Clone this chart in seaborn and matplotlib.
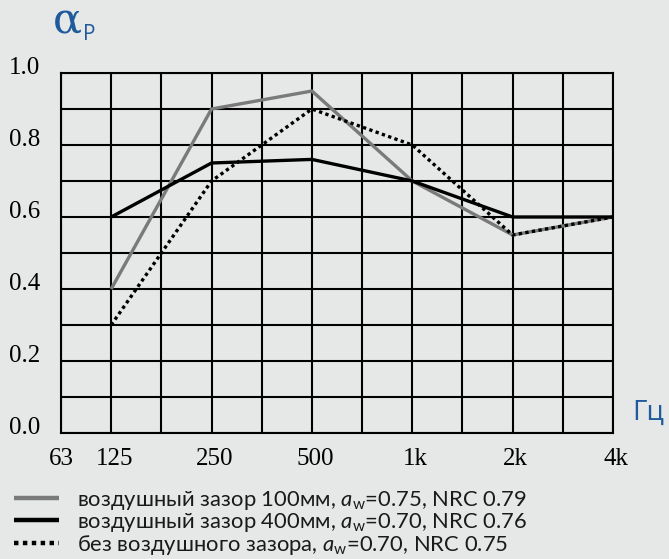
import matplotlib
matplotlib.use("Agg")
import matplotlib.pyplot as plt
import matplotlib.transforms as mtransforms
import seaborn as sns
import pandas as pd

# ---- data ----
freq_labels = ["125", "250", "500", "1k", "2k", "4k"]
gap_100mm = [0.40, 0.90, 0.95, 0.70, 0.55, 0.60]
gap_400mm = [0.60, 0.75, 0.76, 0.70, 0.60, 0.60]
no_gap = [0.30, 0.70, 0.90, 0.80, 0.55, 0.60]
tick_labels = ["63", "125", "250", "500", "1k", "2k", "4k"]
y_ticks = [0.0, 0.2, 0.4, 0.6, 0.8, 1.0]
series_names = [
    r"воздушный зазор 100мм, $\mathit{a}_{\mathrm{w}}$=0.75, NRC 0.79",
    r"воздушный зазор 400мм, $\mathit{a}_{\mathrm{w}}$=0.70, NRC 0.76",
    r"без воздушного зазора, $\mathit{a}_{\mathrm{w}}$=0.70, NRC 0.75",
]

# positions on a half-octave grid: 125 Hz at 1, each octave = 2 cells
pos = [1 + 2 * i for i in range(len(freq_labels))]
tick_pos = [0] + pos

df = pd.DataFrame({
    "pos": pos * 3,
    "value": gap_100mm + gap_400mm + no_gap,
    "series": [series_names[0]] * 6 + [series_names[1]] * 6 + [series_names[2]] * 6,
})

sns.set_theme(style="white")
plt.rcParams["mathtext.fontset"] = "custom"
plt.rcParams["mathtext.it"] = "Lato:italic"
plt.rcParams["mathtext.rm"] = "Lato"

bg = "#e6e7e7"
fig = plt.figure(figsize=(6.69, 5.59), dpi=100, facecolor=bg)
ax = fig.add_axes([61 / 669, 1 - 433 / 559, (613 - 61) / 669, (433 - 73) / 559])
ax.set_facecolor(bg)

palette = {series_names[0]: "#7a7a7a", series_names[1]: "#000000", series_names[2]: "#000000"}
styles = {series_names[0]: "", series_names[1]: "", series_names[2]: (1, 1)}
sns.lineplot(data=df, x="pos", y="value", hue="series", style="series",
             palette=palette, dashes=styles, linewidth=2.4, ax=ax, legend=True,
             zorder=3)
for ln in ax.get_lines():
    ln.set_dash_capstyle("butt")
    ln.set_solid_capstyle("butt")

ax.set_xlim(0, 11)
ax.set_ylim(0, 1.0)
# grid every cell; labels only at the octave positions
xgrid = list(range(0, 12))
ax.set_xticks(xgrid)
ax.set_xticklabels([tick_labels[tick_pos.index(p)] if p in tick_pos else "" for p in xgrid])
ygrid = [round(i / 10, 1) for i in range(11)]
ax.set_yticks(ygrid)
ax.set_yticklabels([f"{v:.1f}" if v in y_ticks else "" for v in ygrid])
ax.grid(True, which="major", color="black", linewidth=1.5)
ax.set_axisbelow(True)
for s in ax.spines.values():
    s.set_color("black")
    s.set_linewidth(1.5)
ax.tick_params(axis="both", which="both", length=0)
ax.tick_params(axis="x", pad=11)
ax.tick_params(axis="y", pad=15)
for lab in ax.get_xticklabels() + ax.get_yticklabels():
    lab.set_fontfamily("Liberation Serif")
    lab.set_fontsize(18)
    lab.set_color("black")
offy = mtransforms.ScaledTranslation(0, 8 / 100, fig.dpi_scale_trans)
for lab in ax.get_yticklabels():
    lab.set_transform(lab.get_transform() + offy)
offx = mtransforms.ScaledTranslation(3 / 100, 0, fig.dpi_scale_trans)
for lab in ax.get_xticklabels()[1:]:
    lab.set_transform(lab.get_transform() + offx)
ax.set_xlabel("")
ax.set_ylabel("")

# legend
handles, labels = ax.get_legend_handles_labels()
ax.get_legend().remove()
for h in handles:
    h.set_linewidth(3.2)
leg = fig.legend(handles, labels, loc="upper left",
                 bbox_to_anchor=(14 / 669, 1 - 489 / 559),
                 frameon=False, prop={"family": "Lato", "size": 15.8},
                 handlelength=2.05, handletextpad=0.8, labelspacing=-0.05,
                 borderpad=0, borderaxespad=0)
for t in leg.get_texts():
    t.set_color("#1a1a1a")

blue = "#1f5b9c"
fig.text(53 / 669, 1 - 33 / 559, "α", fontsize=31, color=blue,
         fontfamily="DejaVu Serif", va="baseline", ha="left")
fig.text(83 / 669, 1 - 40 / 559, "P", fontsize=15, color=blue,
         fontfamily="Open Sans", va="baseline", ha="left")
fig.text(632 / 669, 1 - 420 / 559, "Гц", fontsize=20, color=blue,
         fontfamily="Open Sans", va="baseline", ha="left")

fig.savefig("out.png", dpi=100, facecolor=bg)
